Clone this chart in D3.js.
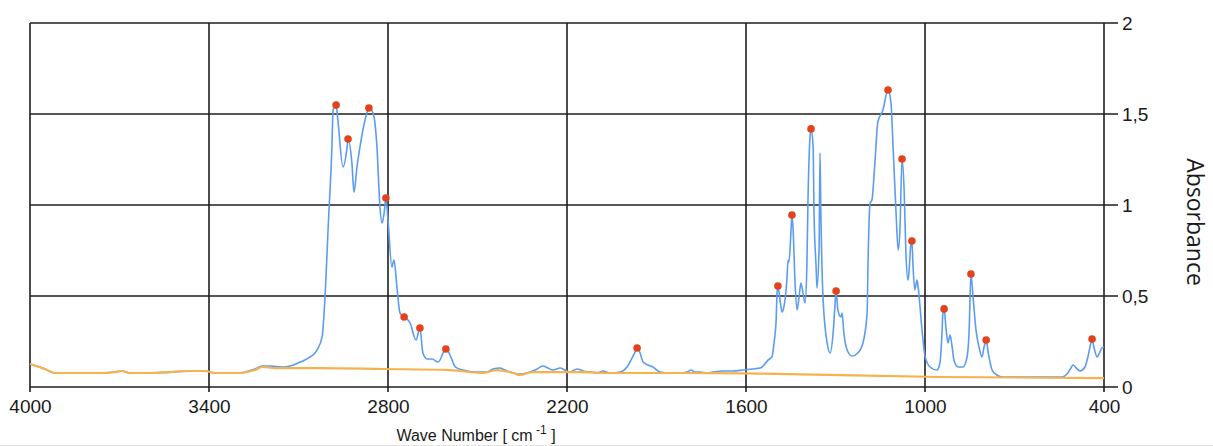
<!DOCTYPE html>
<html>
<head>
<meta charset="utf-8">
<script src="https://cdn.jsdelivr.net/npm/d3@7"></script>
<style>
  html, body { margin: 0; padding: 0; background: #fff; }
  svg { display: block; }
  text { font-family: "Liberation Sans", Arial, sans-serif; fill: #1a1a1a; }
</style>
</head>
<body>
<svg id="chart" width="1213" height="446"></svg>
<script>
// IR spectrum: wave number (cm-1) and absorbance
const spectrumWave = [
  4000, 3950, 3916, 3832, 3765, 3715, 3692, 3665, 3598, 3531, 3464, 3413, 3380, 3296, 3246, 3222, 3196, 3152, 3128,
  3095, 3061, 3038, 3021, 3011, 3001, 2988, 2984, 2974, 2968, 2951, 2937, 2934, 2921, 2914, 2904, 2894, 2884, 2870,
  2864, 2850, 2837, 2827, 2820, 2813, 2807, 2800, 2787, 2780, 2770, 2760, 2746, 2726, 2706, 2693, 2683, 2669, 2652,
  2632, 2606, 2585, 2575, 2549, 2502, 2468, 2448, 2425, 2408, 2381, 2358, 2334, 2307, 2280, 2264, 2247, 2223, 2207,
  2190, 2166, 2146, 2116, 2099, 2079, 2056, 2022, 1999, 1982, 1972, 1965, 1955, 1945, 1928, 1912, 1888, 1855, 1821,
  1798, 1784, 1771, 1754, 1731, 1711, 1677, 1644, 1610, 1577, 1553, 1546, 1526, 1513, 1506, 1499, 1496, 1493, 1486,
  1479, 1473, 1463, 1459, 1456, 1449, 1446, 1442, 1436, 1429, 1422, 1416, 1409, 1402, 1396, 1392, 1386, 1382, 1375,
  1372, 1365, 1362, 1355, 1352, 1349, 1342, 1328, 1318, 1308, 1302, 1298, 1292, 1282, 1278, 1272, 1261, 1245, 1225,
  1208, 1194, 1191, 1184, 1178, 1168, 1158, 1141, 1124, 1114, 1107, 1097, 1090, 1084, 1077, 1070, 1064, 1057, 1054,
  1047, 1044, 1040, 1034, 1027, 1023, 1010, 1000, 983, 960, 950, 943, 940, 936, 930, 923, 916, 909, 903, 889, 873,
  859, 852, 846, 839, 829, 819, 809, 802, 795, 788, 775, 759, 739, 682, 615, 541, 524, 511, 504, 490, 480, 464, 454,
  444, 440, 434, 423, 417, 407, 400
];
const spectrumAbs = [
  0.126, 0.099, 0.077, 0.077, 0.077, 0.082, 0.088, 0.077, 0.077, 0.082, 0.088, 0.088, 0.077, 0.077, 0.099, 0.115, 0.115, 0.110, 0.115,
  0.137, 0.165, 0.203, 0.275, 0.495, 0.863, 1.319, 1.522, 1.549, 1.467, 1.209, 1.319, 1.363, 1.231, 1.071, 1.209, 1.319, 1.412, 1.511,
  1.533, 1.505, 1.319, 0.989, 0.901, 0.956, 1.038, 0.918, 0.659, 0.698, 0.549, 0.407, 0.385, 0.352, 0.258, 0.324, 0.187, 0.154, 0.154,
  0.137, 0.209, 0.148, 0.110, 0.093, 0.082, 0.082, 0.099, 0.104, 0.093, 0.077, 0.071, 0.077, 0.093, 0.115, 0.104, 0.093, 0.104, 0.093,
  0.082, 0.099, 0.088, 0.082, 0.077, 0.088, 0.077, 0.082, 0.110, 0.159, 0.192, 0.214, 0.187, 0.137, 0.121, 0.110, 0.082, 0.077, 0.077,
  0.082, 0.093, 0.082, 0.082, 0.077, 0.082, 0.088, 0.088, 0.093, 0.099, 0.104, 0.110, 0.148, 0.165, 0.242, 0.368, 0.516, 0.555, 0.478,
  0.412, 0.440, 0.588, 0.698, 0.687, 0.863, 0.945, 0.863, 0.588, 0.423, 0.495, 0.571, 0.516, 0.462, 0.659, 1.044, 1.357, 1.418, 1.319,
  0.956, 0.659, 0.544, 0.769, 1.286, 0.956, 0.495, 0.242, 0.187, 0.297, 0.440, 0.527, 0.423, 0.385, 0.407, 0.297, 0.203, 0.170, 0.187,
  0.242, 0.407, 0.681, 1.011, 1.027, 1.231, 1.456, 1.522, 1.632, 1.560, 1.319, 0.956, 0.753, 0.863, 1.253, 1.082, 0.736, 0.588, 0.626,
  0.791, 0.802, 0.659, 0.533, 0.588, 0.549, 0.313, 0.170, 0.110, 0.093, 0.132, 0.297, 0.407, 0.429, 0.330, 0.242, 0.286, 0.220, 0.148, 0.110, 0.110,
  0.165, 0.313, 0.621, 0.495, 0.313, 0.220, 0.165, 0.220, 0.258, 0.187, 0.093, 0.066, 0.055, 0.055, 0.055, 0.055, 0.071, 0.104, 0.121, 0.099, 0.088, 0.110, 0.165,
  0.242, 0.264, 0.220, 0.165, 0.181, 0.214, 0.220
];

// Fitted baseline
const baselineWave = [
  4000, 3950, 3916, 3832, 3765, 3715, 3692, 3665, 3598, 3531, 3464, 3413, 3380, 3296, 3246, 3222, 3179, 3128,
  3028, 2817, 2592, 2482, 2435, 2381, 2358, 2314, 2156, 2046, 1821, 1553, 950, 400
];
const baselineAbs = [
  0.126, 0.099, 0.077, 0.077, 0.077, 0.082, 0.088, 0.077, 0.077, 0.082, 0.088, 0.088, 0.077, 0.077, 0.093, 0.110, 0.104, 0.104,
  0.104, 0.099, 0.093, 0.077, 0.093, 0.077, 0.066, 0.082, 0.082, 0.077, 0.077, 0.074, 0.055, 0.049
];

// Picked peaks
const peakWave = [2974, 2934, 2864, 2807, 2746, 2693, 2606, 1965, 1493, 1446, 1382, 1298, 1124, 1077, 1044, 936, 846, 795, 440];
const peakAbs  = [1.549, 1.363, 1.533, 1.038, 0.385, 0.324, 0.209, 0.214, 0.555, 0.945, 1.418, 0.527, 1.632, 1.253, 0.802, 0.429, 0.621, 0.258, 0.264];

// Axis ticks
const xTicks = [4000, 3400, 2800, 2200, 1600, 1000, 400];
const yTicks = [0, 0.5, 1, 1.5, 2];
const yTickLabels = ["0", "0,5", "1", "1,5", "2"];

const svg = d3.select("#chart");
const plotLeft = 30, plotRight = 1104, plotTop = 23, plotBottom = 387;

const x = d3.scaleLinear().domain([4000, 400]).range([plotLeft, plotRight]);
const y = d3.scaleLinear().domain([0, 2]).range([plotBottom, plotTop]);

const gridColor = "#1e1e1e";

// light frame line along the bottom of the control
svg.append("line")
  .attr("x1", 0).attr("x2", 1213).attr("y1", 445.5).attr("y2", 445.5)
  .attr("stroke", "#e4e4e4").attr("stroke-width", 1);

// grid
const grid = svg.append("g");
grid.selectAll(".vg").data(xTicks).join("line")
  .attr("x1", d => x(d)).attr("x2", d => x(d))
  .attr("y1", plotTop).attr("y2", plotBottom + 5)
  .attr("stroke", gridColor).attr("stroke-width", 1.6);
grid.selectAll(".hg").data(yTicks).join("line")
  .attr("x1", plotLeft).attr("x2", plotRight + 14)
  .attr("y1", d => y(d)).attr("y2", d => y(d))
  .attr("stroke", gridColor).attr("stroke-width", 1.6);

// axes (labels only; tick marks come from the grid above)
const xAxis = svg.append("g")
  .attr("transform", `translate(0,${plotBottom})`)
  .call(d3.axisBottom(x).tickValues(xTicks).tickFormat(d3.format("d")).tickSize(0).tickPadding(13));
xAxis.select(".domain").remove();
xAxis.selectAll("text").attr("font-size", 19).attr("fill", "#1a1a1a")
  .style("font-family", '"Liberation Sans", Arial, sans-serif');

const yAxis = svg.append("g")
  .attr("transform", `translate(${plotRight + 14},0)`)
  .call(d3.axisRight(y).tickValues(yTicks).tickFormat((d, i) => yTickLabels[i]).tickSize(0).tickPadding(4));
yAxis.select(".domain").remove();
yAxis.selectAll("text").attr("font-size", 19).attr("fill", "#1a1a1a")
  .style("font-family", '"Liberation Sans", Arial, sans-serif');

// axis titles
const xTitle = svg.append("text")
  .attr("x", 476).attr("y", 441)
  .attr("text-anchor", "middle")
  .attr("font-size", 16);
xTitle.append("tspan").text("Wave Number [ cm");
xTitle.append("tspan").attr("dy", -7).attr("font-size", 12).text(" -1");
xTitle.append("tspan").attr("dy", 7).text(" ]");

svg.append("text")
  .attr("transform", "translate(1187,222) rotate(90)")
  .attr("text-anchor", "middle")
  .style("font-family", '"Open Sans", "Noto Sans", sans-serif')
  .attr("font-size", 23)
  .text("Absorbance");

// series
const spectrum = spectrumWave.map((w, i) => [w, spectrumAbs[i]]);
const baseline = baselineWave.map((w, i) => [w, baselineAbs[i]]);

const line = d3.line()
  .x(d => x(d[0]))
  .y(d => y(d[1]))
  .curve(d3.curveMonotoneX);

svg.append("path")
  .datum(spectrum)
  .attr("d", line)
  .attr("fill", "none")
  .attr("stroke", "#5c9cef")
  .attr("stroke-width", 1.6)
  .attr("stroke-linejoin", "round");

svg.append("path")
  .datum(baseline)
  .attr("d", line)
  .attr("fill", "none")
  .attr("stroke", "#f5b24e")
  .attr("stroke-width", 2.2)
  .attr("stroke-linejoin", "round");

// peak markers
svg.append("g").selectAll("circle")
  .data(peakWave.map((w, i) => [w, peakAbs[i]]))
  .join("circle")
  .attr("cx", d => x(d[0]))
  .attr("cy", d => y(d[1]))
  .attr("r", 3.8)
  .attr("fill", "#e2431c");
</script>
</body>
</html>
